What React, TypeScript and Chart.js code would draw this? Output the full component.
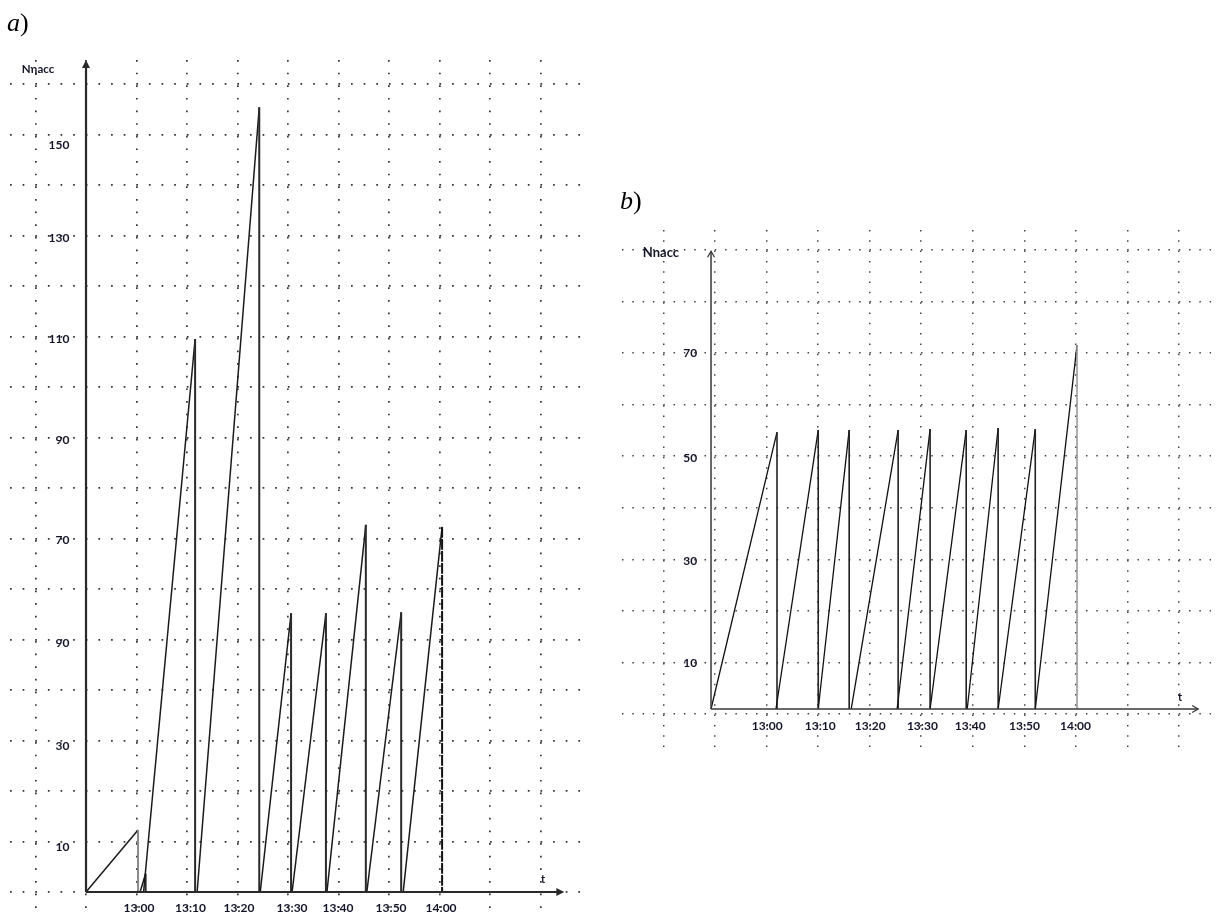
import React, { useEffect, useRef } from "react";
import { Chart, registerables } from "chart.js";

Chart.register(...registerables);

const FONT = "Lato, 'Noto Sans', 'DejaVu Sans', sans-serif";
const TEXT_COLOR = "#15152a";

// ---------------- panel a) ----------------
// time axis in minutes counted from the vertical axis (12:50), N on vertical axis
const A_RISE_START = [0, 10.7, 11.4, 22.0, 34.5, 40.8, 47.7, 55.6, 62.8];
const A_PEAK_T = [10.3, 11.8, 21.6, 34.3, 40.6, 47.5, 55.4, 62.4, 70.5];
const A_PEAK_N = [12.3, 3.6, 109.5, 155.4, 55.2, 55.2, 72.7, 55.4, 72.3];
const A_DASHED_DROPS = [0, 8];
const A_TIME_TICKS = [10.5, 20.7, 30.3, 40.8, 49.9, 60.4, 70.3];
const A_TIME_LABELS = ["13:00", "13:10", "13:20", "13:30", "13:40", "13:50", "14:00"];
const A_N_TICKS = [8.9, 28.9, 49.3, 69.7, 89.5, 109.5, 129.5, 147.9];
const A_N_LABELS = ["10", "30", "90", "70", "90", "110", "130", "150"];
const A_GRID_T = [-10, 0, 10, 20, 30, 40, 50, 60, 70, 80, 90];
const A_GRID_N = [0, 10, 20, 30, 40, 50, 60, 70, 80, 90, 100, 110, 120, 130, 140, 150, 160];

// ---------------- panel b) ----------------
const B_RISE_START = [0, 12.6, 20.8, 27.2, 36.1, 42.5, 49.7, 55.7, 62.9];
const B_PEAK_T = [12.8, 20.8, 26.8, 36.3, 42.5, 49.5, 55.7, 62.9, 71.0];
const B_PEAK_N = [53.7, 54.1, 54.1, 54.1, 54.3, 54.1, 54.5, 54.3, 70.6];
const B_DASHED_DROPS = [8];
const B_TIME_TICKS = [10.9, 21.2, 30.9, 41.0, 50.3, 60.8, 70.7];
const B_TIME_LABELS = ["13:00", "13:10", "13:20", "13:30", "13:40", "13:50", "14:00"];
const B_N_TICKS = [8.9, 28.7, 48.7, 69.0];
const B_N_LABELS = ["10", "30", "50", "70"];
const B_GRID_T = [-9.22, 0.78, 10.78, 20.78, 30.78, 40.78, 50.78, 60.78, 70.78, 80.78, 90.78];
const B_GRID_N = [-0.97, 9.03, 19.03, 29.03, 39.03, 49.03, 59.03, 69.03, 79.03, 89.03];

type PanelCfg = {
  key: string;
  starts: number[];
  peakT: number[];
  peakN: number[];
  dashed: number[];
  timeTicks: number[];
  timeLabels: string[];
  nTicks: number[];
  nLabels: string[];
  gridT: number[];
  gridN: number[];
  xMin: number;
  xMax: number;
  yMin: number;
  yMax: number;
  padding: { left: number; top: number; right: number; bottom: number };
  dash: number[];
  dotColor: string;
  dotWidth: number;
  xLabelPad: number;
  yLabelAxisX: number;
  rampColor: string;
  rampWidth: number;
  dropColor: string;
  dropWidth: number;
  dashedColors: string[];
  dashPattern: number[];
  axisColor: string;
  axisWidth: number;
  filledHead: boolean;
  xAxisEnd: number;
  yAxisEnd: number;
};

const PANEL_A: PanelCfg = {
  key: "a",
  starts: A_RISE_START,
  peakT: A_PEAK_T,
  peakN: A_PEAK_N,
  dashed: A_DASHED_DROPS,
  timeTicks: A_TIME_TICKS,
  timeLabels: A_TIME_LABELS,
  nTicks: A_N_TICKS,
  nLabels: A_N_LABELS,
  gridT: A_GRID_T,
  gridN: A_GRID_N,
  xMin: -15.05,
  xMax: 98.2,
  yMin: -3.76,
  yMax: 164.75,
  padding: { left: 10, top: 60, right: 18, bottom: 29 },
  dash: [1.7, 10.93],
  dotColor: "#333333",
  dotWidth: 1.7,
  xLabelPad: 8.8,
  yLabelAxisX: -3.3,
  rampColor: "#1a1a1a",
  rampWidth: 1.5,
  dropColor: "#2a2a2a",
  dropWidth: 2,
  dashedColors: ["#8a8a8a", "#111111"],
  dashPattern: [9, 3],
  axisColor: "#2a2a2a",
  axisWidth: 2.2,
  filledHead: true,
  xAxisEnd: 94.7,
  yAxisEnd: 164.75,
};

const PANEL_B: PanelCfg = {
  key: "b",
  starts: B_RISE_START,
  peakT: B_PEAK_T,
  peakN: B_PEAK_N,
  dashed: B_DASHED_DROPS,
  timeTicks: B_TIME_TICKS,
  timeLabels: B_TIME_LABELS,
  nTicks: B_N_TICKS,
  nLabels: B_N_LABELS,
  gridT: B_GRID_T,
  gridN: B_GRID_N,
  xMin: -17.23,
  xMax: 96.99,
  yMin: -7.57,
  yMax: 92.92,
  padding: { left: 22.2, top: 230, right: 8, bottom: 170 },
  dash: [1.5, 8.81],
  dotColor: "#444444",
  dotWidth: 1.5,
  xLabelPad: 10.3,
  yLabelAxisX: -2.7,
  rampColor: "#111111",
  rampWidth: 1.3,
  dropColor: "#222222",
  dropWidth: 1.6,
  dashedColors: ["#9a9a9a"],
  dashPattern: [10, 2],
  axisColor: "#3a3a3a",
  axisWidth: 1.5,
  filledHead: false,
  xAxisEnd: 94.5,
  yAxisEnd: 88.8,
};

function buildPoints(starts: number[], peakT: number[], peakN: number[]) {
  const pts: { x: number; y: number }[] = [];
  starts.forEach((s, i) => {
    pts.push({ x: s, y: 0 }, { x: peakT[i], y: peakN[i] }, { x: peakT[i], y: 0 });
  });
  return pts;
}

function axesPlugin(p: PanelCfg) {
  return {
    id: "axes-" + p.key,
    afterDatasetsDraw(chart: any) {
      const { ctx } = chart;
      const xs = chart.scales.x;
      const ys = chart.scales.y;
      const ox = xs.getPixelForValue(0);
      const oy = ys.getPixelForValue(0);
      const tx = xs.getPixelForValue(p.xAxisEnd);
      const ty = ys.getPixelForValue(p.yAxisEnd);
      ctx.save();
      ctx.setLineDash([]);
      ctx.strokeStyle = p.axisColor;
      ctx.fillStyle = p.axisColor;
      ctx.lineWidth = p.axisWidth;
      ctx.beginPath();
      ctx.moveTo(ox, oy);
      ctx.lineTo(ox, ty + (p.filledHead ? 6 : 0));
      ctx.moveTo(ox, oy);
      ctx.lineTo(tx - (p.filledHead ? 6 : 0), oy);
      ctx.stroke();
      if (p.filledHead) {
        ctx.beginPath();
        ctx.moveTo(ox, ty);
        ctx.lineTo(ox - 4, ty + 8);
        ctx.lineTo(ox + 4, ty + 8);
        ctx.closePath();
        ctx.fill();
        ctx.beginPath();
        ctx.moveTo(tx, oy);
        ctx.lineTo(tx - 8, oy - 4);
        ctx.lineTo(tx - 8, oy + 4);
        ctx.closePath();
        ctx.fill();
      } else {
        ctx.lineWidth = 1.3;
        ctx.beginPath();
        ctx.moveTo(ox - 3.5, ty + 6);
        ctx.lineTo(ox, ty);
        ctx.lineTo(ox + 3.5, ty + 6);
        ctx.moveTo(tx - 6, oy - 3.5);
        ctx.lineTo(tx, oy);
        ctx.lineTo(tx - 6, oy + 3.5);
        ctx.stroke();
      }
      ctx.restore();
    },
  };
}

function makeConfig(p: PanelCfg): any {
  const pts = buildPoints(p.starts, p.peakT, p.peakN);
  const kind = (ctx: any) => {
    const i = ctx.p0DataIndex;
    if (i % 3 === 1) return { drop: (i - 1) / 3 };
    if (i % 3 === 2) return { base: true };
    return { ramp: true };
  };
  const tickFont = { family: FONT, size: 12, weight: "bold" as const };
  return {
    type: "line",
    data: {
      datasets: [
        {
          data: pts,
          borderColor: p.rampColor,
          borderWidth: p.rampWidth,
          pointRadius: 0,
          fill: false,
          tension: 0,
          segment: {
            borderColor: (ctx: any) => {
              const k: any = kind(ctx);
              if (k.base) return "rgba(0,0,0,0)";
              if (k.drop !== undefined) {
                const di = p.dashed.indexOf(k.drop);
                if (di >= 0) return p.dashedColors[Math.min(di, p.dashedColors.length - 1)];
                return p.dropColor;
              }
              return p.rampColor;
            },
            borderWidth: (ctx: any) => {
              const k: any = kind(ctx);
              if (k.drop !== undefined) return p.dropWidth;
              return p.rampWidth;
            },
            borderDash: (ctx: any) => {
              const k: any = kind(ctx);
              if (k.drop !== undefined && p.dashed.indexOf(k.drop) >= 0) return p.dashPattern;
              return [];
            },
          },
        },
      ],
    },
    options: {
      responsive: false,
      animation: false,
      events: [],
      layout: { padding: p.padding },
      plugins: { legend: { display: false }, tooltip: { enabled: false }, title: { display: false } },
      scales: {
        x: {
          type: "linear",
          min: p.xMin,
          max: p.xMax,
          position: "bottom",
          afterBuildTicks: (s: any) => {
            s.ticks = p.gridT.map((v) => ({ value: v }));
          },
          ticks: { display: false },
          grid: { display: true, drawTicks: false, color: p.dotColor, lineWidth: p.dotWidth },
          border: { display: false, dash: p.dash },
        },
        y: {
          type: "linear",
          min: p.yMin,
          max: p.yMax,
          position: "left",
          afterBuildTicks: (s: any) => {
            s.ticks = p.gridN.map((v) => ({ value: v }));
          },
          ticks: { display: false },
          grid: { display: true, drawTicks: false, color: p.dotColor, lineWidth: p.dotWidth },
          border: { display: false, dash: p.dash },
        },
        xl: {
          type: "linear",
          axis: "x",
          min: p.xMin,
          max: p.xMax,
          position: { y: 0 },
          afterBuildTicks: (s: any) => {
            s.ticks = p.timeTicks.map((v) => ({ value: v }));
          },
          ticks: {
            callback: (_v: any, i: number) => p.timeLabels[i],
            autoSkip: false,
            maxRotation: 0,
            minRotation: 0,
            padding: p.xLabelPad,
            font: tickFont,
            color: TEXT_COLOR,
          },
          grid: { display: false, drawTicks: false },
          border: { display: false },
        },
        yl: {
          type: "linear",
          axis: "y",
          min: p.yMin,
          max: p.yMax,
          position: { x: p.yLabelAxisX },
          afterBuildTicks: (s: any) => {
            s.ticks = p.nTicks.map((v) => ({ value: v }));
          },
          ticks: {
            callback: (_v: any, i: number) => p.nLabels[i],
            autoSkip: false,
            padding: 3,
            font: tickFont,
            color: TEXT_COLOR,
          },
          grid: { display: false, drawTicks: false },
          border: { display: false },
        },
      },
    },
    plugins: [axesPlugin(p)],
  };
}

function PanelChart({ p, left, width, height }: { p: PanelCfg; left: number; width: number; height: number }) {
  const ref = useRef<HTMLCanvasElement | null>(null);
  useEffect(() => {
    if (!ref.current) return;
    const chart = new Chart(ref.current, makeConfig(p));
    return () => chart.destroy();
  }, [p]);
  return (
    <canvas
      ref={ref}
      width={width}
      height={height}
      style={{ position: "absolute", left, top: 0, width, height }}
    />
  );
}

function Txt({ x, y, children, size = 12, bold = true, color = TEXT_COLOR }: any) {
  return (
    <div
      style={{
        position: "absolute",
        left: x,
        top: y,
        transform: "translate(-50%, -50%)",
        fontFamily: FONT,
        fontSize: size,
        fontWeight: bold ? 700 : 400,
        lineHeight: 1,
        color,
        whiteSpace: "nowrap",
      }}
    >
      {children}
    </div>
  );
}

const PANEL_LETTER_STYLE: React.CSSProperties = {
  position: "absolute",
  fontFamily: "'Liberation Serif', 'DejaVu Serif', serif",
  fontSize: 26,
  lineHeight: 1,
  color: "#000",
};

export default function App() {
  return (
    <div
      style={{
        position: "fixed",
        left: 0,
        top: 0,
        width: 1219,
        height: 918,
        background: "#ffffff",
        overflow: "hidden",
      }}
    >
      <PanelChart p={PANEL_A} left={0} width={600} height={940} />
      <PanelChart p={PANEL_B} left={600} width={619} height={918} />
      <div style={{ ...PANEL_LETTER_STYLE, left: 7, top: 10 }}>
        <i>a</i>)
      </div>
      <div style={{ ...PANEL_LETTER_STYLE, left: 620, top: 188 }}>
        <i>b</i>)
      </div>
      <Txt x={38} y={69} size={11.5}>
        Nηacc
      </Txt>
      <Txt x={661} y={252} size={13}>
        Nnacc
      </Txt>
      <Txt x={543} y={878} size={11}>
        t
      </Txt>
      <Txt x={1180} y={696} size={11}>
        t
      </Txt>
    </div>
  );
}
